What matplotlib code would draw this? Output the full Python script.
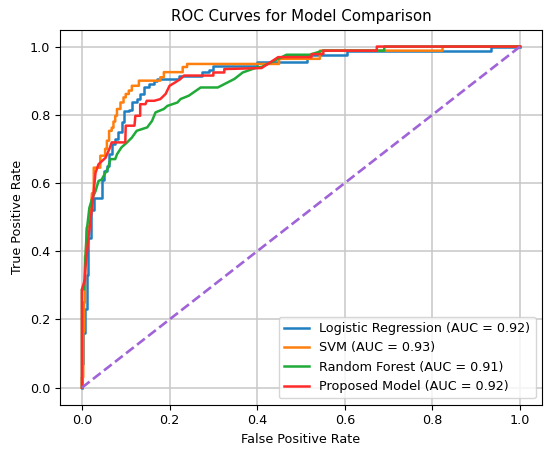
import matplotlib
matplotlib.use("Agg")
import matplotlib.pyplot as plt

# ---- data ----
lr_fpr = [0, 0, 0.003, 0.003, 0.007, 0.007, 0.011, 0.011, 0.015, 0.015, 0.02, 0.02, 0.027, 0.027,
          0.046, 0.046, 0.05, 0.05, 0.057, 0.057, 0.062, 0.062, 0.069, 0.069, 0.075, 0.075, 0.083, 0.083,
          0.091, 0.091, 0.097, 0.097, 0.107, 0.107, 0.114, 0.114, 0.126, 0.126, 0.133, 0.133, 0.141, 0.141,
          0.152, 0.152, 0.164, 0.164, 0.172, 0.172, 0.221, 0.221, 0.275, 0.275, 0.29, 0.29, 0.30, 0.30,
          0.40, 0.40, 0.513, 0.513, 0.605, 0.605, 0.933, 0.933, 1.0]
lr_tpr = [0, 0.07, 0.07, 0.16, 0.16, 0.23, 0.23, 0.33, 0.33, 0.44, 0.44, 0.52, 0.52, 0.557,
          0.557, 0.61, 0.61, 0.635, 0.635, 0.65, 0.65, 0.685, 0.685, 0.714, 0.714, 0.73, 0.73, 0.75,
          0.75, 0.78, 0.78, 0.81, 0.81, 0.815, 0.815, 0.836, 0.836, 0.846, 0.846, 0.861, 0.861, 0.88,
          0.88, 0.89, 0.89, 0.90, 0.90, 0.905, 0.905, 0.915, 0.915, 0.924, 0.924, 0.93, 0.93, 0.944,
          0.944, 0.954, 0.954, 0.976, 0.976, 0.988, 0.988, 1.0, 1.0]

svm_fpr = [0, 0, 0.003, 0.003, 0.005, 0.005, 0.007, 0.007, 0.009, 0.011, 0.017, 0.023, 0.027, 0.027,
           0.042, 0.042, 0.053, 0.053, 0.057, 0.057, 0.062, 0.062, 0.068, 0.068, 0.072, 0.072,
           0.076, 0.076, 0.08, 0.08, 0.088, 0.088, 0.095, 0.095, 0.10, 0.10, 0.107, 0.107,
           0.114, 0.114, 0.13, 0.13, 0.179, 0.179, 0.187, 0.187, 0.23, 0.23, 0.24, 0.24, 0.45, 0.45,
           0.543, 0.543, 0.823, 0.823, 1.0]
svm_tpr = [0, 0.03, 0.03, 0.165, 0.165, 0.25, 0.25, 0.385, 0.385, 0.47, 0.47, 0.57, 0.57, 0.645,
           0.645, 0.68, 0.68, 0.70, 0.70, 0.724, 0.724, 0.753, 0.753, 0.762, 0.762, 0.78,
           0.78, 0.797, 0.797, 0.817, 0.817, 0.836, 0.836, 0.851, 0.851, 0.861, 0.861, 0.871,
           0.871, 0.885, 0.885, 0.90, 0.90, 0.91, 0.91, 0.925, 0.925, 0.94, 0.94, 0.949, 0.949, 0.964,
           0.964, 0.988, 0.988, 1.0, 1.0]

rf_fpr = [0, 0, 0.005, 0.008, 0.011, 0.017, 0.023, 0.031, 0.038, 0.045, 0.06, 0.065, 0.076, 0.08,
          0.09, 0.103, 0.114, 0.125, 0.149, 0.16, 0.168, 0.187, 0.195, 0.218, 0.225, 0.244, 0.271,
          0.31, 0.348, 0.367, 0.40, 0.41, 0.467, 0.52, 0.55, 0.69, 0.69, 1.0]
rf_tpr = [0, 0.288, 0.288, 0.38, 0.46, 0.527, 0.553, 0.576, 0.606, 0.61, 0.645, 0.67, 0.67, 0.684,
          0.704, 0.719, 0.733, 0.753, 0.763, 0.782, 0.807, 0.817, 0.826, 0.836, 0.846, 0.856, 0.88,
          0.88, 0.905, 0.924, 0.939, 0.94, 0.976, 0.976, 0.988, 0.988, 1.0, 1.0]

pm_fpr = [0, 0, 0.007, 0.008, 0.015, 0.023, 0.027, 0.031, 0.038, 0.054, 0.064, 0.068, 0.099, 0.10,
          0.12, 0.122, 0.133, 0.133, 0.145, 0.148, 0.165, 0.179, 0.191, 0.20, 0.213, 0.225, 0.233,
          0.30, 0.30, 0.325, 0.325, 0.41, 0.448, 0.524, 0.524, 0.551, 0.551, 0.673, 0.673, 1.0]
pm_tpr = [0, 0.288, 0.317, 0.35, 0.44, 0.527, 0.576, 0.63, 0.655, 0.674, 0.704, 0.719, 0.719, 0.768,
          0.768, 0.797, 0.797, 0.831, 0.831, 0.841, 0.841, 0.846, 0.861, 0.885, 0.895, 0.905, 0.915,
          0.915, 0.924, 0.924, 0.934, 0.937, 0.969, 0.969, 0.978, 0.978, 0.988, 0.988, 1.0, 1.0]

labels = ["Logistic Regression (AUC = 0.92)", "SVM (AUC = 0.93)",
          "Random Forest (AUC = 0.91)", "Proposed Model (AUC = 0.92)"]
colors = ["#1f7fc0", "#ff7f0e", "#20aa38", "#ff2a2a"]

plt.rcParams['font.family'] = ['DejaVu Sans']
plt.rcParams['font.size'] = 9

fig = plt.figure(figsize=(5.5, 4.53), dpi=100)
ax = fig.add_axes([60/550, (453-404.7)/453, 482/550, 375.2/453])

curves = [(lr_fpr, lr_tpr), (svm_fpr, svm_tpr), (rf_fpr, rf_tpr), (pm_fpr, pm_tpr)]
for (f, t), lab, c in zip(curves, labels, colors):
    ax.plot(f, t, color=c, lw=1.8, label=lab)
ax.plot([0, 1], [0, 1], linestyle="--", color="#a064d8", lw=1.9)

ax.set_xlim(-0.05, 1.05)
ax.set_ylim(-0.05, 1.05)
ax.set_xticks([0, 0.2, 0.4, 0.6, 0.8, 1.0])
ax.set_yticks([0, 0.2, 0.4, 0.6, 0.8, 1.0])
ax.grid(True, color="#c8c8c8", lw=1.1)
ax.set_axisbelow(True)
ax.set_xlabel("False Positive Rate", fontsize=9.2)
ax.set_ylabel("True Positive Rate", fontsize=9.2)
ax.set_title("ROC Curves for Model Comparison", fontsize=10.8)
ax.tick_params(labelsize=9.2)
ax.legend(loc="lower right", fontsize=9.2)

fig.savefig("out.png", dpi=100)
